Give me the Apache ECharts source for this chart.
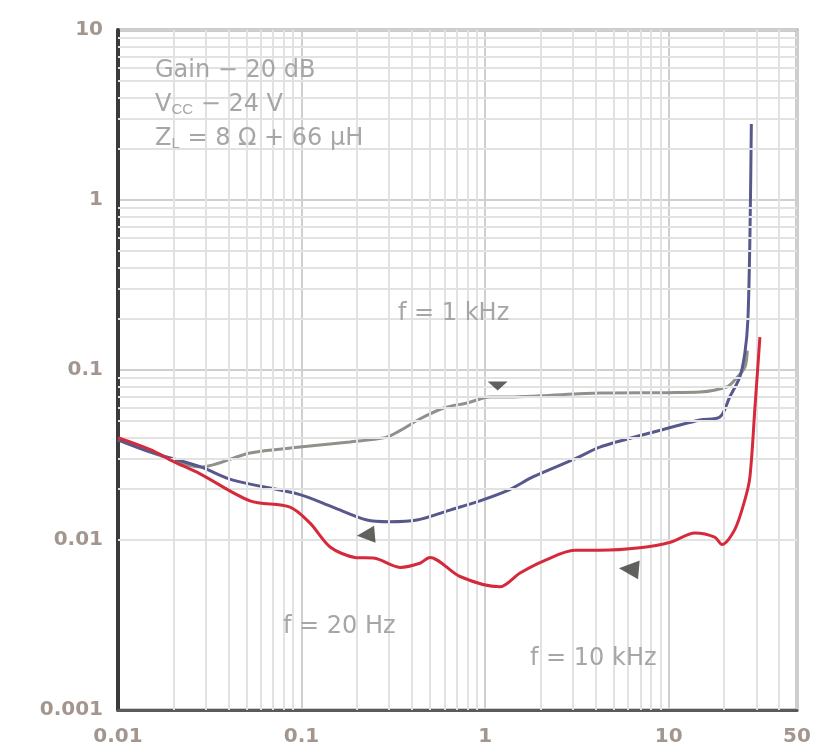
<!DOCTYPE html>
<html>
<head>
<meta charset="utf-8">
<script src="https://cdn.jsdelivr.net/npm/echarts@6/dist/echarts.min.js"></script>
<style>
  html, body { margin: 0; padding: 0; background: #fff; }
  #chart { width: 819px; height: 753px; }
</style>
</head>
<body>
<div id="chart"></div>
<script>
// 曲线数据 (输出功率 W, THD+N %)
var gray1k = [
  [0.01, 0.0388], [0.0149, 0.033], [0.028, 0.0269], [0.0524, 0.0325], [0.098, 0.0352],
  [0.183, 0.0377], [0.285, 0.0400], [0.344, 0.0440], [0.44, 0.0515], [0.60, 0.0600],
  [0.80, 0.0640], [1.06, 0.0694], [1.36, 0.0694], [2.0, 0.0705], [4.22, 0.0732],
  [10.0, 0.0736], [14.8, 0.0742], [20.7, 0.0794], [22.9, 0.0873], [26.0, 0.104], [26.8, 0.13]
];
var blue20 = [
  [0.01, 0.0388], [0.0149, 0.033], [0.028, 0.027], [0.0423, 0.0225], [0.098, 0.0185],
  [0.148, 0.0156], [0.227, 0.0131], [0.30, 0.0128], [0.425, 0.0131], [0.643, 0.0150],
  [0.937, 0.0170], [1.36, 0.0198], [1.82, 0.0235], [3.08, 0.0300], [4.22, 0.0352],
  [7.9, 0.0426], [14.8, 0.0508], [19.0, 0.0529], [21.5, 0.0694], [24.4, 0.091],
  [26.0, 0.126], [27.0, 0.197], [27.7, 0.6], [28.2, 2.8]
];
var red10k = [
  [0.01, 0.040], [0.015, 0.034], [0.02, 0.029], [0.028, 0.0245], [0.0524, 0.0170],
  [0.0865, 0.0156], [0.111, 0.0126], [0.143, 0.0091], [0.195, 0.0079], [0.251, 0.0078],
  [0.344, 0.0069], [0.441, 0.0073], [0.50, 0.0079], [0.729, 0.0061], [1.2, 0.0053],
  [1.55, 0.0064], [2.12, 0.0076], [3.08, 0.0087], [4.22, 0.0087], [6.97, 0.0090],
  [10.2, 0.0097], [13.9, 0.0110], [17.8, 0.0104], [19.5, 0.0094], [22.9, 0.0115],
  [26.0, 0.0172], [27.7, 0.0235], [29.5, 0.06], [31.4, 0.156]
];
// 指向曲线的小三角
var arrow1k = [1.17, 0.0805];
var arrow20 = [0.224, 0.0107];
var arrow10k = [6.07, 0.00675];

// 网格线 (对数刻度)
var decadesX = [0.01, 0.1, 1, 10];
var decadesY = [0.001, 0.01, 0.1, 1];
var minorSteps = [2, 3, 4, 5, 6, 7, 8, 9];
var xTickLabels = { '0.01': '0.01', '0.1': '0.1', '1': '1', '10': '10', '50': '50' };

function minorLines(decades, max, key) {
  var out = [];
  decades.forEach(function (d) {
    minorSteps.forEach(function (m) {
      var v = +(d * m).toPrecision(3);
      if (v < max) { var o = {}; o[key] = v; out.push(o); }
    });
  });
  return out;
}

var myChart = echarts.init(document.getElementById('chart'));

var font = 'DejaVu Sans, Verdana, sans-serif';
var labelStyle = { color: '#a3968f', fontSize: 20, fontWeight: 'bold', fontFamily: font };
var noteColor = '#a6a6a6';
var sub = { fontSize: 15, fill: noteColor, padding: [10, 0, 0, 0] };

function note(text, left, top) {
  return {
    type: 'text', left: left, top: top, z: 10,
    style: { text: text, fill: noteColor, fontSize: 24, fontFamily: font, rich: { s: sub } }
  };
}

var option = {
  backgroundColor: '#ffffff',
  animation: false,
  grid: { left: 118, top: 30, right: 22, bottom: 43 },
  xAxis: {
    type: 'log',
    logBase: 10,
    min: 0.01,
    max: 50,
    axisLine: { show: true, onZero: false, lineStyle: { color: '#5a5a5a', width: 3 } },
    axisTick: { show: false },
    splitLine: { show: true, lineStyle: { color: '#cfcfcf', width: 2 } },
    axisLabel: Object.assign({
      margin: 17,
      showMaxLabel: true,
      showMinLabel: true,
      formatter: function (v) {
        var k = String(+(+v).toPrecision(3));
        return xTickLabels[k] || '';
      }
    }, labelStyle)
  },
  yAxis: {
    type: 'log',
    logBase: 10,
    min: 0.001,
    max: 10,
    axisLine: { show: true, onZero: false, lineStyle: { color: '#3a3a3a', width: 4 } },
    axisTick: { show: false },
    splitLine: { show: true, lineStyle: { color: '#cfcfcf', width: 2 } },
    axisLabel: Object.assign({
      margin: 15,
      formatter: function (v) { return String(+(+v).toPrecision(3)); }
    }, labelStyle)
  },
  graphic: [
    { type: 'rect', shape: { x: 118, y: 30, width: 679, height: 680 },
      style: { fill: 'none', stroke: '#9a9a9a', lineWidth: 3 }, z: 0, silent: true },
    note('Gain − 20 dB', 155, 59),
    note('V{s|CC} − 24 V', 155, 93),
    note('Z{s|L} = 8 Ω + 66 μH', 155, 127),
    note('f = 1 kHz', 398, 302),
    note('f = 20 Hz', 283, 615),
    note('f = 10 kHz', 530, 647)
  ],
  series: [
    {
      name: 'grid', type: 'line', data: [], silent: true,
      markLine: {
        silent: true, symbol: 'none', label: { show: false },
        lineStyle: { color: '#e2e2e2', width: 2, type: 'solid' },
        data: minorLines(decadesX, 50, 'xAxis').concat(minorLines(decadesY, 10, 'yAxis'))
      }
    },
    {
      name: 'f = 1 kHz', type: 'line', data: gray1k, smooth: 0.3, showSymbol: false,
      lineStyle: { color: '#8d938b', width: 3 }, z: 3
    },
    {
      name: 'f = 20 Hz', type: 'line', data: blue20, smooth: 0.3, showSymbol: false,
      lineStyle: { color: '#58588c', width: 3 }, z: 4
    },
    {
      name: 'f = 10 kHz', type: 'line', data: red10k, smooth: 0.3, showSymbol: false,
      lineStyle: { color: '#d42a3c', width: 3 }, z: 5
    },
    {
      name: 'arrows', type: 'scatter', z: 6, silent: true,
      itemStyle: { color: '#3a3a36' },
      data: [
        { value: arrow1k, symbol: 'triangle', symbolSize: [20, 9], symbolRotate: 180 },
        { value: arrow20, symbol: 'triangle', symbolSize: [17, 18], symbolRotate: 95 },
        { value: arrow10k, symbol: 'triangle', symbolSize: [19, 20], symbolRotate: 85 }
      ]
    }
  ]
};

myChart.setOption(option);
</script>
</body>
</html>
